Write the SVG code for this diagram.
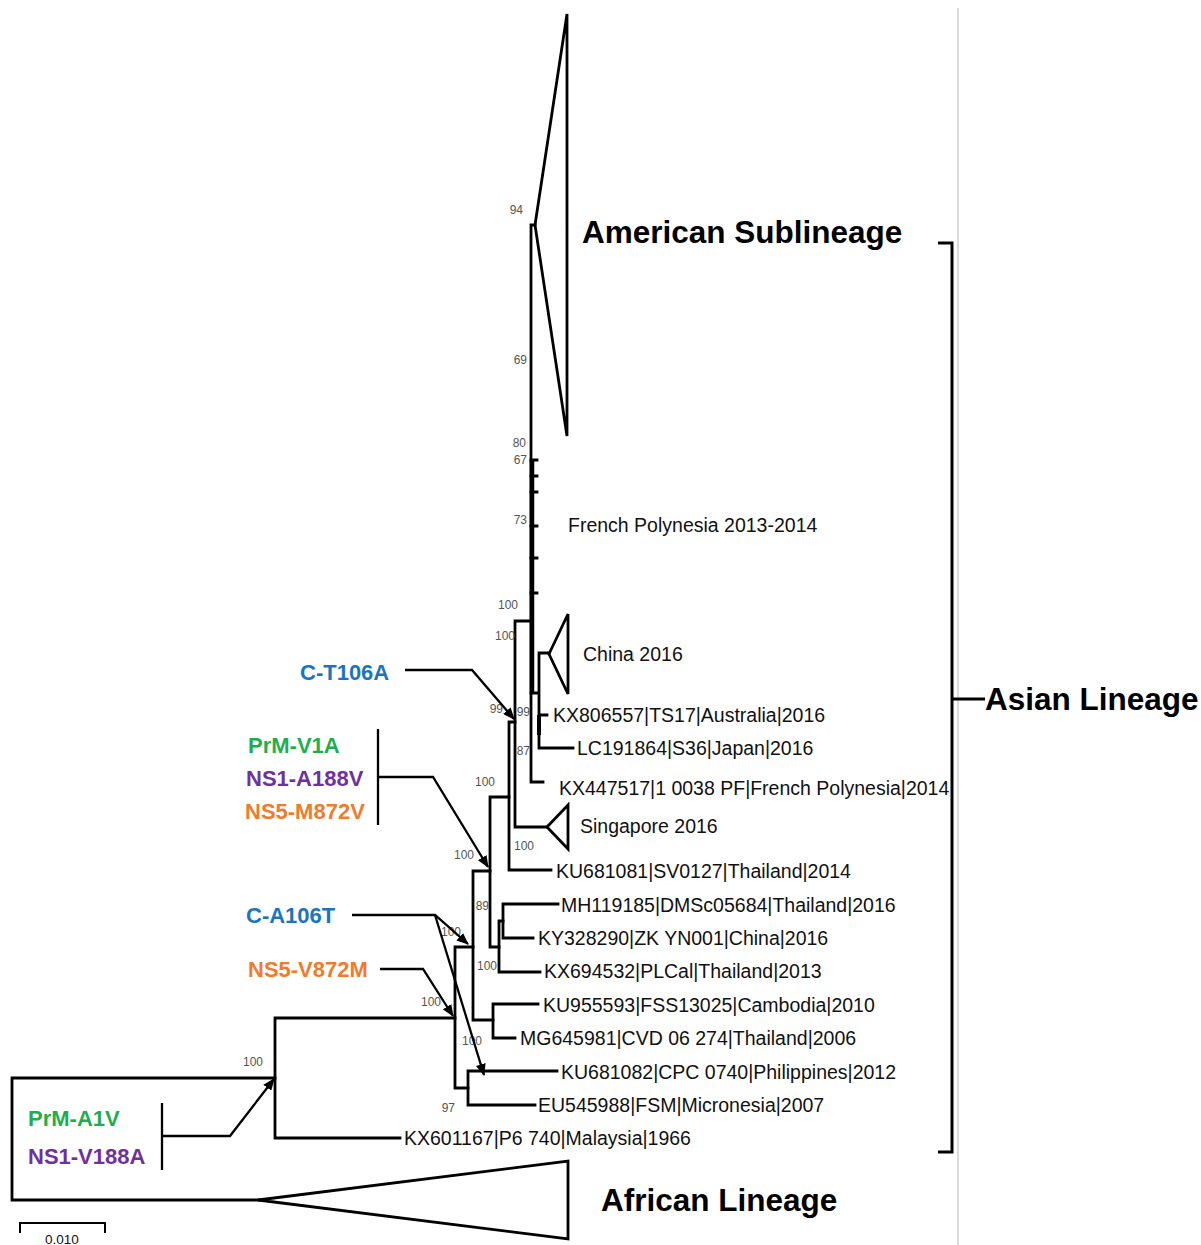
<svg xmlns="http://www.w3.org/2000/svg" width="1201" height="1245" viewBox="0 0 1201 1245">
<style>
.t{fill:none;stroke:#000;stroke-width:2.8;stroke-linecap:square}
.c{fill:none;stroke:#000;stroke-width:2.3}
.tip{font-family:"Liberation Sans",Arial,sans-serif;font-size:19.5px;fill:#111}
.bs{font-family:"Liberation Sans",Arial,sans-serif;font-size:12px;fill:#555;text-anchor:end}
.big{font-family:"Liberation Sans",Arial,sans-serif;font-size:31.5px;font-weight:bold;fill:#000}
.mut{font-family:"Liberation Sans",Arial,sans-serif;font-size:22px;font-weight:bold}
.blue{fill:#1b75bc}.green{fill:#1fae4f}.purple{fill:#7030a0}.orange{fill:#f07b2d}
</style>
<defs>
<marker id="ah" markerUnits="userSpaceOnUse" markerWidth="12" markerHeight="10" refX="11" refY="5" orient="auto">
<path d="M0,0 L12,5 L0,10 Z" fill="#000"/>
</marker>
</defs>
<rect width="1201" height="1245" fill="#fff"/>
<line x1="958" y1="8" x2="958" y2="1245" stroke="#c4c4c4" stroke-width="1.2"/>
<g id="tree">
<path class="t" d="M12,1078 V1200 M12,1078 H275 M12,1200 H258"/>
<path class="t" d="M275,1018 V1138 M275,1018 H455 M275,1138 H400"/>
<path class="t" d="M455,947 V1088 M455,947 H473 M455,1088 H468"/>
<path class="t" d="M468,1071 V1105 M468,1071 H557 M468,1105 H535"/>
<path class="t" d="M473,871 V1020 M473,871 H490 M473,1020 H493"/>
<path class="t" d="M493,1004 V1038 M493,1004 H538 M493,1038 H515"/>
<path class="t" d="M490,797 V947 M490,797 H509 M490,947 H499"/>
<path class="t" d="M499,921 V972 M499,921 H503 M499,972 H540"/>
<path class="t" d="M503,904 V938 M503,904 H558 M503,938 H533"/>
<path class="t" d="M509,722 V870 M509,722 H515 M509,870 H551"/>
<path class="t" d="M515,621 V827 M515,621 H531 M515,827 H547"/>
<path class="t" d="M531,225 V782 M531,225 H535 M531,782 H543"/>
<path d="M532,460 V692" stroke="#000" stroke-width="4.5" fill="none"/>
<path class="t" d="M531,460 H537 M531,476 H537 M531,492 H537 M531,526 H537 M531,558 H537 M531,593 H537"/>
<path class="t" d="M531,693 H539 M539,653 V748 M539,653 H549 M539,715 H547 M539,748 H573"/>
<path d="M539,715 V735" stroke="#000" stroke-width="4" fill="none"/>
</g>
<g id="american-sublineage">
<polygon class="t" points="535,225 567,14 567,436" stroke-linejoin="miter"/>
<text class="big" x="582" y="243">American Sublineage</text>
</g>
<g id="china-2016">
<polygon class="t" points="549,654 568,614 568,694"/>
<text class="tip" x="583" y="661">China 2016</text>
</g>
<g id="singapore-2016">
<polygon class="t" points="547,827 568,805 568,849"/>
<text class="tip" x="580" y="833">Singapore 2016</text>
</g>
<g id="african-lineage">
<polygon class="t" points="258,1200 568,1161 568,1239"/>
<text class="big" x="601" y="1211">African Lineage</text>
</g>
<g id="tips">
<text class="tip" x="568" y="532">French Polynesia 2013-2014</text>
<text class="tip" x="553" y="722">KX806557|TS17|Australia|2016</text>
<text class="tip" x="577" y="755">LC191864|S36|Japan|2016</text>
<text class="tip" x="559" y="795">KX447517|1 0038 PF|French Polynesia|2014</text>
<text class="tip" x="556" y="878">KU681081|SV0127|Thailand|2014</text>
<text class="tip" x="561" y="912">MH119185|DMSc05684|Thailand|2016</text>
<text class="tip" x="538" y="945">KY328290|ZK YN001|China|2016</text>
<text class="tip" x="544" y="978">KX694532|PLCal|Thailand|2013</text>
<text class="tip" x="543" y="1012">KU955593|FSS13025|Cambodia|2010</text>
<text class="tip" x="520" y="1045">MG645981|CVD 06 274|Thailand|2006</text>
<text class="tip" x="561" y="1079">KU681082|CPC 0740|Philippines|2012</text>
<text class="tip" x="538" y="1112">EU545988|FSM|Micronesia|2007</text>
<text class="tip" x="404" y="1145">KX601167|P6 740|Malaysia|1966</text>
</g>
<g id="bootstrap">
<text class="bs" x="523" y="214">94</text>
<text class="bs" x="527" y="364">69</text>
<text class="bs" x="526" y="447">80</text>
<text class="bs" x="527" y="464">67</text>
<text class="bs" x="527" y="524">73</text>
<text class="bs" x="518" y="609">100</text>
<text class="bs" x="515" y="640">100</text>
<text class="bs" x="503" y="713">99</text>
<text class="bs" x="530" y="716">99</text>
<text class="bs" x="530" y="755">87</text>
<text class="bs" x="495" y="786">100</text>
<text class="bs" x="534" y="850">100</text>
<text class="bs" x="474" y="859">100</text>
<text class="bs" x="489" y="910">89</text>
<text class="bs" x="461" y="936">100</text>
<text class="bs" x="497" y="970">100</text>
<text class="bs" x="441" y="1006">100</text>
<text class="bs" x="482" y="1045">100</text>
<text class="bs" x="263" y="1066">100</text>
<text class="bs" x="455" y="1112">97</text>
</g>
<g id="asian-lineage">
<path d="M938,243 H952 V1152 H938 M952,699 H985" fill="none" stroke="#000" stroke-width="3"/>
<text class="big" x="985" y="710">Asian Lineage</text>
</g>
<g id="mut-C-T106A">
<text class="mut blue" x="300" y="680">C-T106A</text>
</g>
<g id="mut-V1A">
<text class="mut green" x="248" y="753">PrM-V1A</text>
<text class="mut purple" x="246" y="786">NS1-A188V</text>
<text class="mut orange" x="245" y="819">NS5-M872V</text>
</g>
<g id="mut-C-A106T">
<text class="mut blue" x="246" y="923">C-A106T</text>
</g>
<g id="mut-NS5-V872M">
<text class="mut orange" x="248" y="977">NS5-V872M</text>
</g>
<g id="mut-A1V">
<text class="mut green" x="28" y="1126">PrM-A1V</text>
<text class="mut purple" x="28" y="1164">NS1-V188A</text>
</g>
<g id="connectors">
<path class="c" d="M405,670 H472 L514,719" marker-end="url(#ah)"/>
<path class="c" d="M378,729 V825 M379,777 H433 L488,867" marker-end="url(#ah)"/>
<path class="c" d="M352,915 H435 L468,944" marker-end="url(#ah)"/>
<path class="c" d="M435,915 L484,1075" marker-end="url(#ah)"/>
<path class="c" d="M380,969 H423 L453,1016" marker-end="url(#ah)"/>
<path class="c" d="M162,1103 V1170 M163,1136 H230 L274,1079" marker-end="url(#ah)"/>
</g>
<g id="scale-bar">
<path d="M20,1233 V1223 H105 V1233" fill="none" stroke="#000" stroke-width="2"/>
<text x="62" y="1244" font-family="Liberation Sans, Arial, sans-serif" font-size="13.5" text-anchor="middle" fill="#111">0.010</text>
</g>
</svg>
